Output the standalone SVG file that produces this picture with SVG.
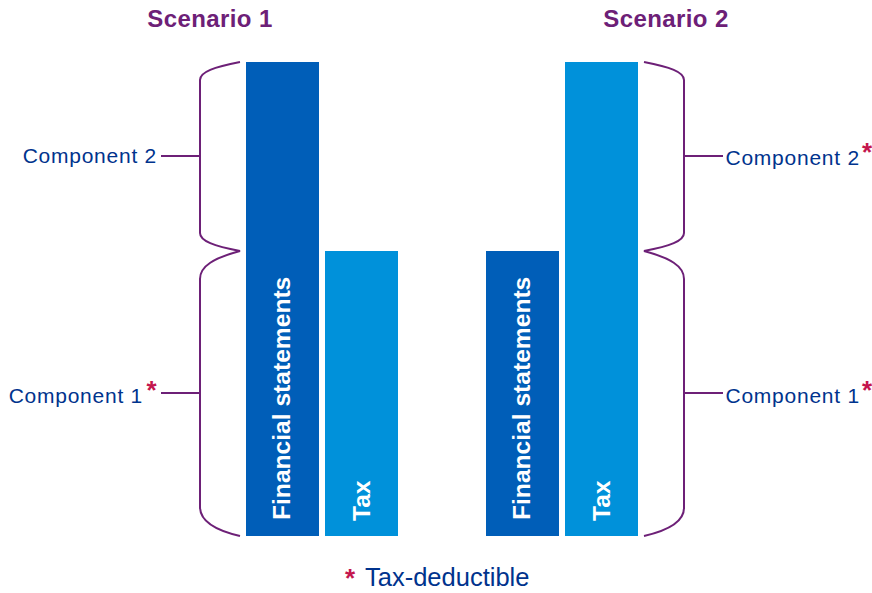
<svg xmlns="http://www.w3.org/2000/svg" width="872" height="593" viewBox="0 0 872 593">
<style>
.title{font-family:"Liberation Sans",Arial,sans-serif;font-weight:bold;font-size:24px;fill:#6D2077;letter-spacing:0.4px}
.lbl{font-family:"Liberation Sans",Arial,sans-serif;font-size:21px;fill:#00338D;letter-spacing:0.75px}
.bar{font-family:"Liberation Sans",Arial,sans-serif;font-weight:bold;font-size:24.6px;fill:#FFFFFF}
.ast{font-family:"Liberation Sans",Arial,sans-serif;font-weight:bold;font-size:26px;fill:#C4164E}
.brace{fill:none;stroke:#6D2077;stroke-width:2}
.dark{fill:#005EB8}
.light{fill:#0091DA}
.foot{font-family:"Liberation Sans",Arial,sans-serif;font-size:25.5px;fill:#00338D}
</style>
<rect width="872" height="593" fill="#FFFFFF"/>
<g id="titles">
<text class="title" x="210" y="27" text-anchor="middle">Scenario 1</text>
<text class="title" x="666" y="27" text-anchor="middle">Scenario 2</text>
</g>
<g id="s1-fin">
<rect class="dark" x="246" y="62" width="73" height="474"/>
<text class="bar" transform="translate(290,520) rotate(-90)">Financial statements</text>
</g>
<g id="s1-tax">
<rect class="light" x="325" y="251" width="73" height="285"/>
<text class="bar" transform="translate(370,521) rotate(-90)">Tax</text>
</g>
<g id="s2-fin">
<rect class="dark" x="486" y="251" width="73" height="285"/>
<text class="bar" transform="translate(530,520) rotate(-90)">Financial statements</text>
</g>
<g id="s2-tax">
<rect class="light" x="565" y="62" width="73" height="474"/>
<text class="bar" transform="translate(610,521) rotate(-90)">Tax</text>
</g>
<g id="connectors">
<path class="brace" d="M240,62 C214,67 200,72 200,80 L200,233 C200,241 214,246 240,251 C214,258 200,266 200,279 L200,507 C200,521 214,530 240,536"/>
<path class="brace" d="M161,156 L200,156 M161,393 L200,393"/>
<path class="brace" d="M644,62 C670,67 684,72 684,80 L684,233 C684,241 670,246 644,251 C670,258 684,266 684,279 L684,508 C684,521 670,530 644,536"/>
<path class="brace" d="M684,156 L723,156 M684,393 L723,393"/>
</g>
<g id="s1-comp2">
<text class="lbl" x="157" y="163" text-anchor="end">Component 2</text>
</g>
<g id="s1-comp1">
<text class="lbl" x="143" y="403" text-anchor="end">Component 1</text>
<text class="ast" x="146.5" y="399">*</text>
</g>
<g id="s2-comp2">
<text class="lbl" x="725.5" y="165">Component 2</text>
<text class="ast" x="862" y="161">*</text>
</g>
<g id="s2-comp1">
<text class="lbl" x="725.5" y="403">Component 1</text>
<text class="ast" x="862" y="399">*</text>
</g>
<g id="legend">
<text class="ast" x="345" y="587">*</text>
<text class="foot" x="365" y="586">Tax-deductible</text>
</g>
</svg>
